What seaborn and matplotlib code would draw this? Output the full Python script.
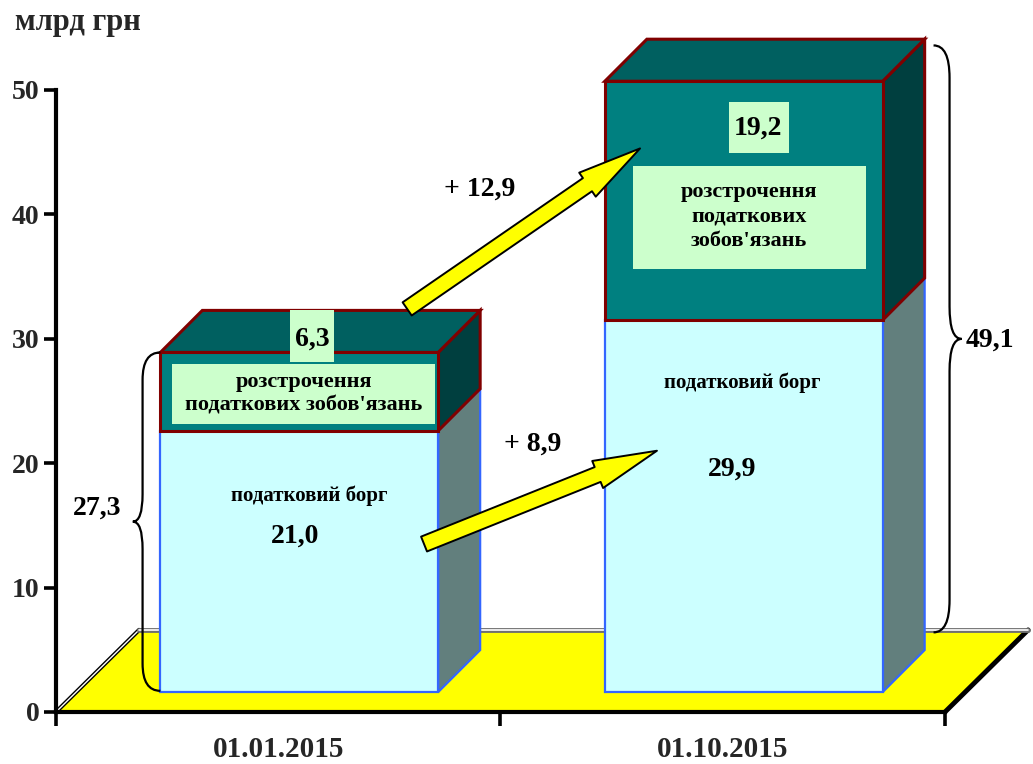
import matplotlib
matplotlib.use("Agg")
import matplotlib.pyplot as plt
from matplotlib.patches import Polygon, Rectangle, FancyArrowPatch, PathPatch
from matplotlib.path import Path
import seaborn as sns
import numpy as np
import pandas as pd

# --- data (млрд грн) ---
dates = ["01.01.2015", "01.10.2015"]
tax_debt = [21.0, 29.9]          # податковий борг
deferral = [6.3, 19.2]           # розстрочення податкових зобов'язань
y_ticks = [0, 10, 20, 30, 40, 50]

unit_label = "млрд грн"
debt_label = "податковий борг"
deferral_labels = ["розстрочення\nподаткових зобов'язань",
                   "розстрочення\nподаткових\nзобов'язань"]

totals = [a + b for a, b in zip(tax_debt, deferral)]


def fmt(v):
    return f"{v:.1f}".replace(".", ",")


# --- 3d look / colours ---
BASE = 1.6                 # bars stand a bit into the floor
DX, DY = 0.0945, 3.38      # bar depth
FDX, FDY = 0.187, 6.6      # floor depth
BAR_W = 0.625

LIGHT, LIGHT_SIDE, BLUE = "#ccffff", "#627f7d", "#3366ff"
TEAL, TEAL_TOP, TEAL_SIDE, RED = "#008080", "#006060", "#003f3f", "#800000"
BOX = "#ccffcc"

sns.set_theme(style="ticks")
plt.rcParams["font.family"] = ["Liberation Serif", "DejaVu Serif"]
plt.rcParams["font.weight"] = "bold"

fig = plt.figure(figsize=(10.33, 7.64), dpi=100)
ax = fig.add_axes([0, 0, 1, 1])
ax.set_facecolor("white")

df = pd.DataFrame({"pos": np.arange(len(dates)), "debt": tax_debt, "deferral": deferral})

sns.barplot(data=df, x="pos", y="debt", bottom=BASE, width=BAR_W, color=LIGHT,
            saturation=1, edgecolor=BLUE, linewidth=1.6, errorbar=None, ax=ax, zorder=3)
sns.barplot(data=df, x="pos", y="deferral", bottom=BASE + df["debt"].values, width=BAR_W,
            color=TEAL, saturation=1, edgecolor=RED, linewidth=2.2, errorbar=None, ax=ax,
            zorder=3.1)

n = len(dates)
debt_bars = ax.patches[:n]
def_bars = ax.patches[n:2 * n]


def faces(p, side_c, top_c, edge, lw, z, top=True):
    x0, y0 = p.get_x(), p.get_y()
    x1, y1 = x0 + p.get_width(), y0 + p.get_height()
    ax.add_patch(Polygon([(x1, y0), (x1 + DX, y0 + DY), (x1 + DX, y1 + DY), (x1, y1)],
                         fc=side_c, ec=edge, lw=lw, zorder=z, joinstyle="miter"))
    if top:
        ax.add_patch(Polygon([(x0, y1), (x0 + DX, y1 + DY), (x1 + DX, y1 + DY), (x1, y1)],
                             fc=top_c, ec=edge, lw=lw, zorder=z, joinstyle="miter"))


for p in list(debt_bars) + list(def_bars):
    p.set_x(p.get_x() + DX / 2)
for p in debt_bars:
    faces(p, LIGHT_SIDE, LIGHT, BLUE, 1.6, 2.8, top=False)
for p in def_bars:
    faces(p, TEAL_SIDE, TEAL_TOP, RED, 2.2, 2.9)

# floor
ax.add_patch(Polygon([(-0.5, 0), (1.5, 0), (1.5 + FDX, FDY), (-0.5 + FDX, FDY)],
                     closed=True, fc="#ffff00", ec="none", zorder=1))
ax.plot([1.5, 1.5 + FDX], [0, FDY], color="black", lw=3.5, zorder=1.5)
for c, w in (("black", 3.0), ("white", 1.0)):
    ax.plot([-0.5, -0.5 + FDX], [0, FDY], color=c, lw=w, zorder=1.6)
for c, w in (("#707070", 3.5), ("white", 1.2)):
    ax.plot([-0.5 + FDX, 1.5 + FDX], [FDY, FDY], color=c, lw=w, zorder=1.6)


# curly braces
def brace(x_end, x_mid, x_tip, y0, y1, r):
    ym = (y0 + y1) / 2
    verts = [(x_end, y1), (x_mid, y1), (x_mid, y1 - r), (x_mid, ym + r),
             (x_mid, ym), (x_tip, ym), (x_mid, ym), (x_mid, ym - r),
             (x_mid, y0 + r), (x_mid, y0), (x_end, y0)]
    codes = [Path.MOVETO, Path.CURVE3, Path.CURVE3, Path.LINETO,
             Path.CURVE3, Path.CURVE3, Path.CURVE3, Path.CURVE3,
             Path.LINETO, Path.CURVE3, Path.CURVE3]
    ax.add_patch(PathPatch(Path(verts, codes), fc="none", ec="black", lw=1.6, zorder=4))


b0 = def_bars[0]
left0 = b0.get_x()
brace(left0, left0 - 0.04, left0 - 0.062, BASE + 0.1, BASE + totals[0], 2.2)
b1 = def_bars[1]
right1 = b1.get_x() + b1.get_width() + DX
brace(right1 + 0.02, right1 + 0.056, right1 + 0.083, FDY - 0.2, BASE + totals[1] + DY - 0.5, 2.6)

# arrows
for (xa, ya), (xb, yb) in [((0.328, 13.5), (0.852, 21.0)), ((0.290, 32.4), (0.814, 45.3))]:
    ax.add_patch(FancyArrowPatch((xa, ya), (xb, yb),
                                 arrowstyle="simple,head_length=4.6,head_width=2.1,tail_width=1.15",
                                 mutation_scale=10, fc="#ffff00", ec="black", lw=1.4,
                                 shrinkA=0, shrinkB=0, zorder=6))


# light green label boxes (size in pixels -> data units)
def label_box(xc, yc, w_px, h_px):
    w, h = w_px / 444.5, h_px / 12.44
    ax.add_patch(Rectangle((xc - w / 2, yc - h / 2), w, h, fc=BOX, ec="none", zorder=5))


txt = dict(ha="center", va="center", color="black", fontweight="bold", zorder=7)
label_box(0.077, 30.2, 44, 52)
ax.text(0.077, 30.0, fmt(deferral[0]), fontsize=20, **txt)
label_box(0.057, 25.6, 263, 60)
ax.text(0.058, 25.6, deferral_labels[0], fontsize=16, linespacing=1.25, **txt)
ax.text(0.069, 17.4, debt_label, fontsize=15, **txt)
ax.text(0.038, 14.1, fmt(tax_debt[0]), fontsize=20, **txt)

label_box(1.082, 47.0, 60, 51)
ax.text(1.08, 46.9, fmt(deferral[1]), fontsize=20, **txt)
label_box(1.06, 39.75, 233, 103)
ax.text(1.059, 39.8, deferral_labels[1], fontsize=16, linespacing=1.3, **txt)
ax.text(1.045, 26.5, debt_label, fontsize=15, **txt)
ax.text(1.021, 19.5, fmt(tax_debt[1]), fontsize=20, **txt)

ax.text(0.454, 42.0, "+ " + fmt(deferral[1] - deferral[0]), fontsize=20, **txt)
ax.text(0.573, 21.5, "+ " + fmt(tax_debt[1] - tax_debt[0]), fontsize=20, **txt)
ax.text(-0.408, 16.4, fmt(totals[0]), fontsize=20, **txt)
ax.text(1.601, 29.9, fmt(totals[1]), fontsize=20, **txt)

fig.text(0.015, 0.971, unit_label, fontsize=22, fontweight="bold", va="center", ha="left")

# axes
ax.set_xlim(-0.626, 1.698)
ax.set_ylim(-4.18, 57.23)
for s in ("top", "right"):
    ax.spines[s].set_visible(False)
ax.spines["left"].set_position(("data", -0.5))
ax.spines["left"].set_bounds(0, 50)
ax.spines["bottom"].set_position(("data", 0))
ax.spines["bottom"].set_bounds(-0.5, 1.5)
for s in ("left", "bottom"):
    ax.spines[s].set_linewidth(3)
    ax.spines[s].set_color("black")
    ax.spines[s].set_zorder(2.5)

ax.set_yticks(y_ticks)
ax.set_yticklabels([str(v) for v in y_ticks])
ax.tick_params(axis="y", labelsize=20, length=9, width=2.6, direction="out", pad=3, color="black")
ax.set_xticks([-0.5, 0.5, 1.5])
ax.set_xticklabels(["", "", ""])
ax.set_xticks(range(n), minor=True)
ax.set_xticklabels(dates, minor=True, fontsize=21, fontweight="bold")
ax.tick_params(axis="x", which="major", length=10, width=2.6, direction="out", color="black")
ax.tick_params(axis="x", which="minor", length=0, pad=17)
ax.set_xlabel("")
ax.set_ylabel("")
for lab in ax.get_yticklabels():
    lab.set_fontweight("bold")

fig.savefig("out.png", dpi=100)
